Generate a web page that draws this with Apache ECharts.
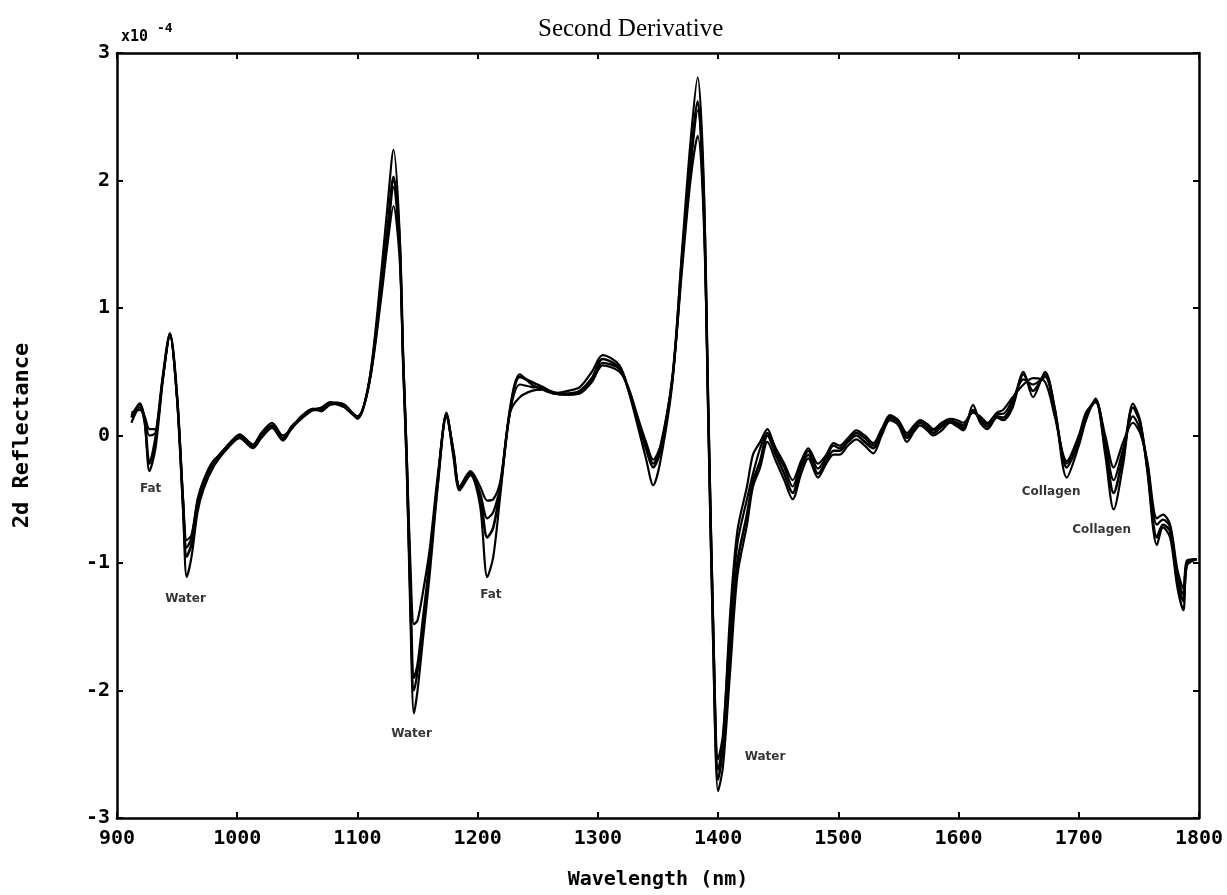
<!DOCTYPE html>
<html>
<head>
<meta charset="utf-8">
<script src="https://cdn.jsdelivr.net/npm/echarts@6/dist/echarts.min.js"></script>
<style>
html,body{margin:0;padding:0;background:#fff;}
#chart{width:1227px;height:895px;}
</style>
</head>
<body>
<div id="chart"></div>
<script>
// Wavelengths (nm)
var wavelengths = [
  912, 919, 923, 927, 932, 938, 944, 950, 955, 958,
  962, 967, 972, 980, 990, 1002, 1013, 1020, 1029, 1038,
  1045, 1052, 1063, 1070, 1077, 1087, 1092, 1100, 1110, 1120,
  1125, 1130, 1135, 1138, 1141, 1144, 1147, 1150, 1155, 1160,
  1167, 1174, 1180, 1185, 1194, 1202, 1208, 1213, 1219, 1227,
  1235, 1245, 1254, 1263, 1275, 1285, 1295, 1304, 1318, 1326,
  1333, 1340, 1346, 1352, 1362, 1370, 1377, 1383, 1388, 1392,
  1396, 1400, 1404, 1410, 1416, 1424, 1429, 1435, 1441, 1448,
  1455, 1462, 1469, 1475, 1483, 1490, 1496, 1501, 1508, 1515,
  1522, 1529, 1536, 1543, 1550, 1557, 1563, 1568, 1574, 1579,
  1586, 1593, 1599, 1604, 1612, 1618, 1624, 1632, 1637, 1645,
  1654, 1662, 1672, 1680, 1690, 1700, 1706, 1714, 1722, 1729,
  1737, 1745, 1751, 1757, 1765, 1770, 1776, 1782, 1787, 1790,
  1798
];
// 2nd derivative reflectance (x10^-4), four spectra
var spectrumA = [
  0.14, 0.25, 0.12, -0.22, -0.02, 0.45, 0.80, 0.30, -0.55, -0.95,
  -0.85, -0.55, -0.38, -0.22, -0.10, 0.00, -0.08, 0.00, 0.08, -0.02,
  0.06, 0.13, 0.20, 0.20, 0.25, 0.24, 0.20, 0.14, 0.43, 1.20,
  1.62, 2.03, 1.55, 0.60, -0.20, -1.20, -1.90, -1.80, -1.40, -1.00,
  -0.35, 0.16, -0.15, -0.41, -0.30, -0.48, -0.80, -0.72, -0.40, 0.20,
  0.46, 0.42, 0.38, 0.34, 0.33, 0.35, 0.45, 0.60, 0.53, 0.35,
  0.12, -0.10, -0.25, -0.12, 0.45, 1.40, 2.15, 2.62, 1.90, 0.10,
  -1.60, -2.70, -2.45, -1.70, -1.00, -0.62, -0.36, -0.20, 0.00, -0.15,
  -0.30, -0.45, -0.25, -0.15, -0.30, -0.20, -0.12, -0.12, -0.05, 0.00,
  -0.05, -0.10, 0.02, 0.14, 0.10, -0.02, 0.05, 0.10, 0.06, 0.02,
  0.07, 0.11, 0.09, 0.06, 0.20, 0.12, 0.07, 0.15, 0.14, 0.25,
  0.48, 0.35, 0.48, 0.20, -0.25, -0.05, 0.15, 0.27, -0.10, -0.45,
  -0.15, 0.22, 0.10, -0.25, -0.80, -0.70, -0.75, -1.15, -1.30, -1.00,
  -0.97
];
var spectrumB = [
  0.18, 0.20, 0.15, 0.05, 0.05, 0.45, 0.78, 0.30, -0.50, -0.82,
  -0.78, -0.50, -0.35, -0.20, -0.12, -0.02, -0.10, -0.02, 0.06, -0.04,
  0.05, 0.12, 0.20, 0.22, 0.26, 0.23, 0.21, 0.15, 0.42, 1.10,
  1.50, 1.80, 1.40, 0.62, -0.15, -1.00, -1.48, -1.45, -1.20, -0.90,
  -0.30, 0.14, -0.12, -0.40, -0.28, -0.40, -0.51, -0.50, -0.35, 0.18,
  0.30, 0.35, 0.36, 0.33, 0.32, 0.33, 0.42, 0.55, 0.50, 0.36,
  0.15, -0.05, -0.19, -0.08, 0.46, 1.30, 2.00, 2.35, 1.70, 0.15,
  -1.50, -2.54, -2.35, -1.50, -0.85, -0.50, -0.30, -0.10, 0.02, -0.10,
  -0.22, -0.35, -0.20, -0.10, -0.22, -0.15, -0.06, -0.08, -0.02, 0.04,
  0.00, -0.06, 0.05, 0.16, 0.12, 0.02, 0.08, 0.12, 0.09, 0.05,
  0.10, 0.13, 0.12, 0.10, 0.18, 0.15, 0.10, 0.18, 0.20, 0.30,
  0.40, 0.45, 0.42, 0.15, -0.20, 0.00, 0.18, 0.26, 0.00, -0.25,
  -0.05, 0.10, 0.02, -0.20, -0.65, -0.62, -0.70, -1.05, -1.20, -0.98,
  -0.97
];
var spectrumC = [
  0.10, 0.22, 0.10, -0.28, -0.10, 0.42, 0.80, 0.28, -0.60, -1.11,
  -0.95, -0.60, -0.42, -0.25, -0.12, 0.01, -0.07, 0.02, 0.10, 0.00,
  0.05, 0.14, 0.21, 0.19, 0.24, 0.25, 0.22, 0.13, 0.44, 1.30,
  1.80, 2.24, 1.60, 0.55, -0.25, -1.40, -2.18, -2.00, -1.55, -1.10,
  -0.38, 0.18, -0.18, -0.43, -0.31, -0.55, -1.11, -0.95, -0.45, 0.22,
  0.48, 0.40, 0.36, 0.33, 0.35, 0.38, 0.50, 0.63, 0.55, 0.33,
  0.08, -0.18, -0.39, -0.20, 0.42, 1.45, 2.30, 2.81, 2.00, 0.05,
  -1.70, -2.79, -2.60, -1.85, -1.10, -0.70, -0.40, -0.25, -0.05, -0.20,
  -0.35, -0.50, -0.30, -0.18, -0.33, -0.22, -0.15, -0.15, -0.08, -0.03,
  -0.08, -0.14, 0.00, 0.12, 0.08, -0.05, 0.03, 0.08, 0.04, 0.00,
  0.04, 0.10, 0.07, 0.04, 0.24, 0.10, 0.05, 0.14, 0.12, 0.22,
  0.50, 0.30, 0.50, 0.22, -0.33, -0.08, 0.12, 0.29, -0.15, -0.58,
  -0.22, 0.25, 0.12, -0.28, -0.86, -0.72, -0.80, -1.19, -1.37, -1.02,
  -0.97
];
var spectrumD = [
  0.16, 0.24, 0.14, 0.00, 0.02, 0.44, 0.79, 0.29, -0.52, -0.88,
  -0.80, -0.52, -0.36, -0.21, -0.11, -0.01, -0.09, -0.01, 0.07, -0.03,
  0.07, 0.13, 0.21, 0.21, 0.26, 0.25, 0.20, 0.15, 0.42, 1.15,
  1.55, 1.95, 1.50, 0.60, -0.18, -1.30, -2.00, -1.85, -1.45, -1.00,
  -0.33, 0.17, -0.14, -0.40, -0.29, -0.45, -0.65, -0.60, -0.38, 0.19,
  0.40, 0.38, 0.37, 0.33, 0.32, 0.34, 0.44, 0.57, 0.52, 0.34,
  0.12, -0.08, -0.22, -0.10, 0.44, 1.35, 2.10, 2.55, 1.80, 0.10,
  -1.55, -2.62, -2.40, -1.40, -0.75, -0.40, -0.15, -0.05, 0.05, -0.12,
  -0.25, -0.40, -0.22, -0.12, -0.26, -0.17, -0.08, -0.10, -0.04, 0.02,
  -0.02, -0.08, 0.04, 0.15, 0.11, 0.00, 0.06, 0.11, 0.08, 0.04,
  0.09, 0.12, 0.10, 0.08, 0.19, 0.14, 0.09, 0.17, 0.17, 0.28,
  0.44, 0.40, 0.46, 0.18, -0.22, -0.03, 0.16, 0.28, -0.05, -0.35,
  -0.10, 0.15, 0.05, -0.22, -0.70, -0.66, -0.72, -1.10, -1.25, -1.00,
  -0.97
];
// Peak annotations: [wavelength, value, text]
var annotations = [
  [928, -0.42, 'Fat'],
  [957, -1.28, 'Water'],
  [1145, -2.34, 'Water'],
  [1211, -1.25, 'Fat'],
  [1439, -2.52, 'Water'],
  [1677, -0.44, 'Collagen'],
  [1719, -0.74, 'Collagen']
];
var xTicks = {min: 900, max: 1800, interval: 100};
var yTicks = {min: -3, max: 3, interval: 1};

function zip(vals) {
  return wavelengths.map(function (w, i) { return [w, vals[i]]; });
}

var chart = echarts.init(document.getElementById('chart'), null, {renderer: 'canvas'});
var monoBold = {fontFamily: 'DejaVu Sans Mono', fontWeight: 'bold', color: '#000'};
var axisLine = {show: true, onZero: false, lineStyle: {color: '#000', width: 2.5}};
var tick = {show: true, inside: true, length: 6, lineStyle: {color: '#000', width: 2}};

function lineSeries(vals, w) {
  return {
    type: 'line', data: zip(vals), showSymbol: false, smooth: 0.3,
    lineStyle: {color: '#000', width: w}, silent: true, z: 3
  };
}

chart.setOption({
  animation: false,
  backgroundColor: '#fff',
  title: {
    text: 'Second Derivative', left: 533, top: 12,
    textStyle: {fontFamily: 'Liberation Serif', fontSize: 25, fontWeight: 'normal', color: '#000'}
  },
  grid: {left: 117, right: 28, top: 53, bottom: 73},
  xAxis: [{
    type: 'value', min: xTicks.min, max: xTicks.max, interval: xTicks.interval,
    position: 'bottom',
    name: 'Wavelength (nm)', nameLocation: 'middle', nameGap: 52,
    nameTextStyle: Object.assign({fontSize: 20}, monoBold),
    axisLine: axisLine, axisTick: tick, splitLine: {show: false},
    axisLabel: Object.assign({fontSize: 20, margin: 11, formatter: function (v) { return String(v); }}, monoBold)
  }, {
    type: 'value', min: xTicks.min, max: xTicks.max, interval: xTicks.interval,
    position: 'top', axisLine: axisLine, axisTick: tick,
    splitLine: {show: false}, axisLabel: {show: false}
  }],
  yAxis: [{
    type: 'value', min: yTicks.min, max: yTicks.max, interval: yTicks.interval,
    position: 'left',
    name: '2d Reflectance', nameLocation: 'middle', nameGap: 84, nameRotate: 90,
    nameTextStyle: Object.assign({fontSize: 22}, monoBold),
    axisLine: axisLine, axisTick: tick, splitLine: {show: false},
    axisLabel: Object.assign({fontSize: 20, margin: 7}, monoBold)
  }, {
    type: 'value', min: yTicks.min, max: yTicks.max, interval: yTicks.interval,
    position: 'right', axisLine: axisLine, axisTick: tick,
    splitLine: {show: false}, axisLabel: {show: false}
  }],
  graphic: [
    {type: 'text', left: 121, top: 30, style: {text: 'x10', font: 'bold 15px "DejaVu Sans Mono"', fill: '#000'}},
    {type: 'text', left: 157, top: 22, style: {text: '-4', font: 'bold 13px "DejaVu Sans Mono"', fill: '#000'}}
  ],
  series: [
    lineSeries(spectrumB, 2.2),
    lineSeries(spectrumD, 2.2),
    lineSeries(spectrumC, 2.2),
    lineSeries(spectrumA, 2.6),
    {
      type: 'scatter', symbolSize: 0, silent: true, z: 5,
      data: annotations.map(function (a) { return {value: [a[0], a[1]], name: a[2]}; }),
      label: {
        show: true, position: 'inside', formatter: '{b}',
        fontFamily: 'DejaVu Sans', fontWeight: 'bold', fontSize: 12, color: '#000',
        textBorderWidth: 0
      }
    }
  ]
});
</script>
</body>
</html>
